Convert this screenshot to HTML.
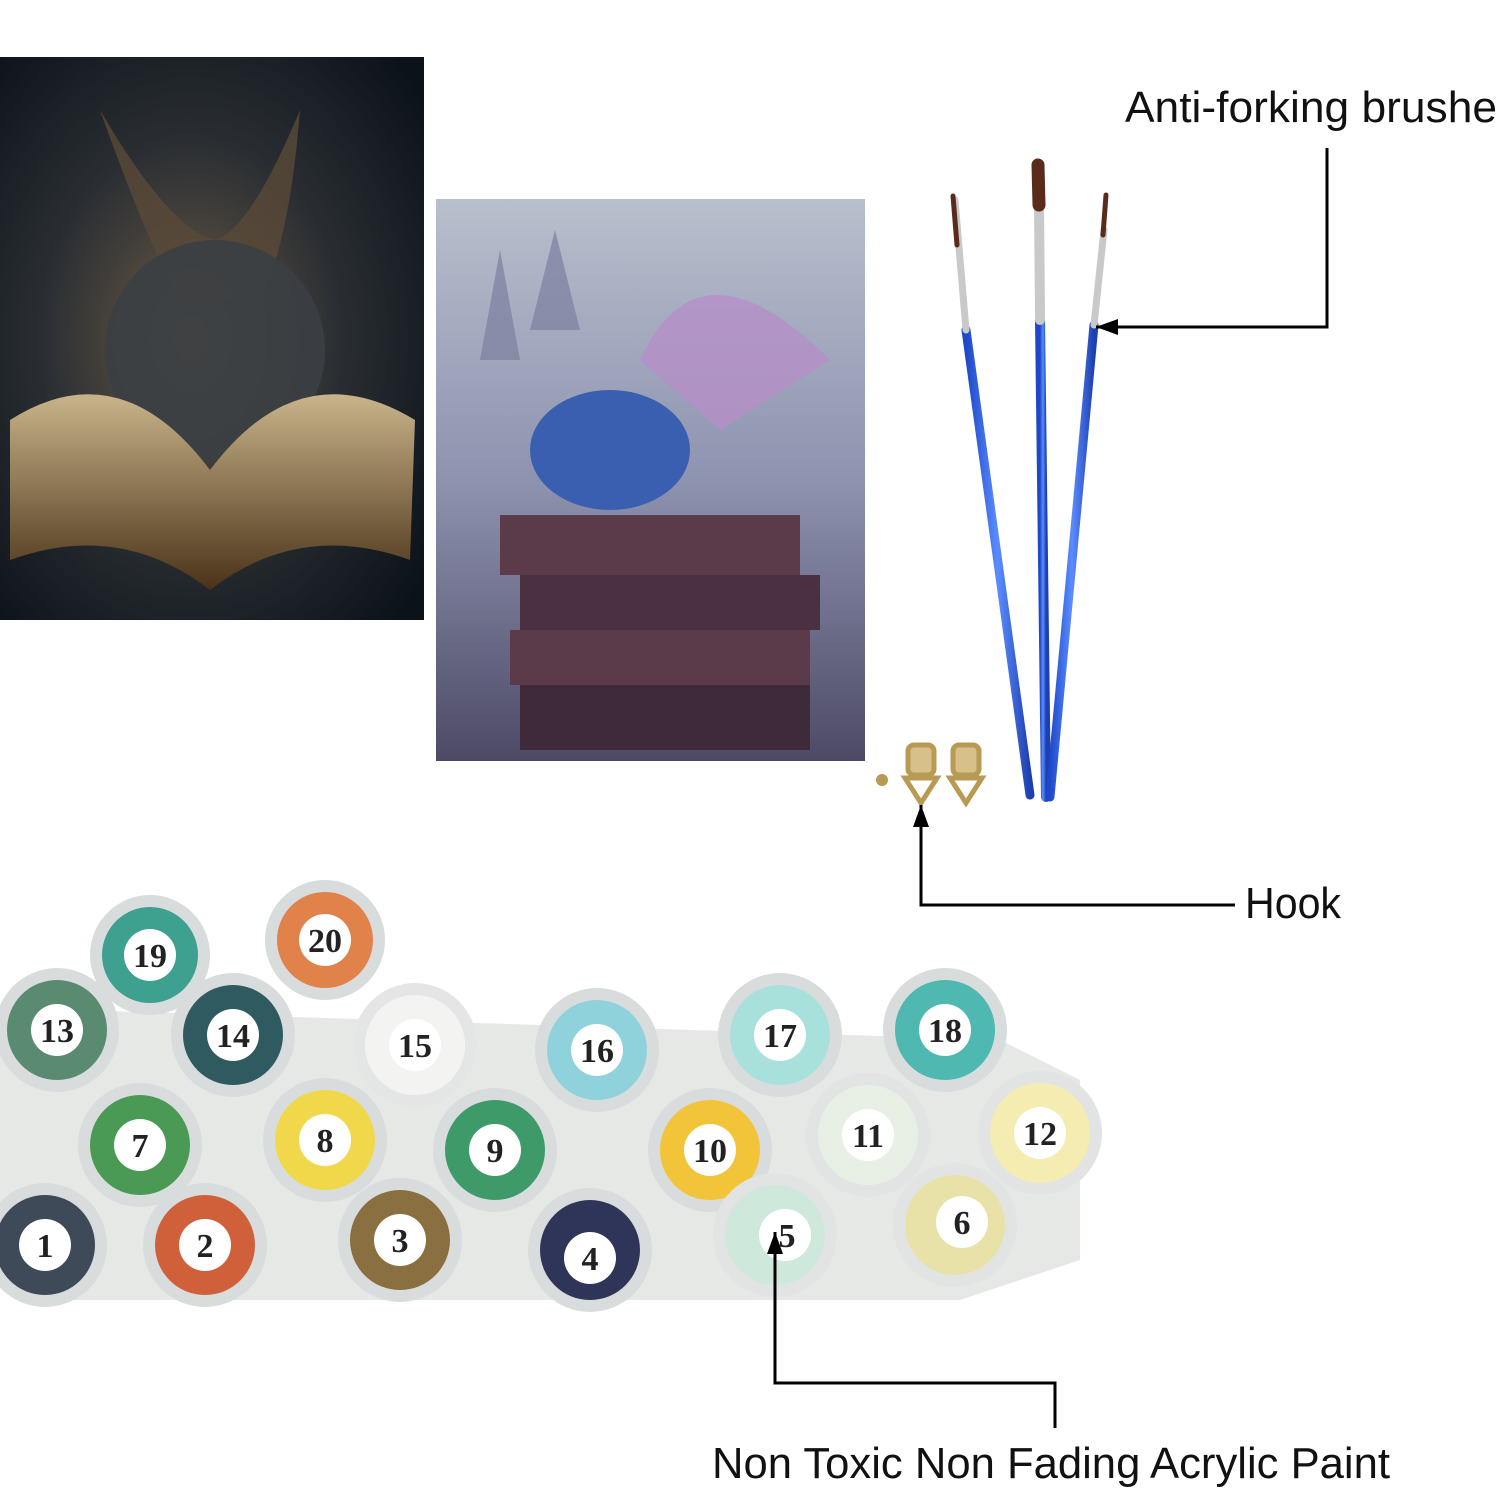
<!DOCTYPE html>
<html><head><meta charset="utf-8"><style>
html,body{margin:0;padding:0;background:#fff;}
svg{display:block;}
</style></head><body>
<svg width="1500" height="1500" viewBox="0 0 1500 1500" xmlns="http://www.w3.org/2000/svg">
<defs>
<radialGradient id="dk" cx="0.45" cy="0.5" r="0.7">
<stop offset="0" stop-color="#6a5a45"/><stop offset="0.5" stop-color="#2a2e33"/><stop offset="1" stop-color="#0b1218"/></radialGradient>
<linearGradient id="bk" x1="0" y1="0" x2="0" y2="1">
<stop offset="0" stop-color="#c9b48a"/><stop offset="1" stop-color="#4a3218"/></linearGradient>
<linearGradient id="mid" x1="0" y1="0" x2="0" y2="1">
<stop offset="0" stop-color="#b8bfcc"/><stop offset="0.5" stop-color="#8e93b0"/><stop offset="1" stop-color="#4d4a66"/></linearGradient>
<linearGradient id="shaft" x1="0" y1="0" x2="1" y2="0">
<stop offset="0" stop-color="#1d49c9"/><stop offset="0.5" stop-color="#5b8cff"/><stop offset="1" stop-color="#1d3fb0"/></linearGradient>
<marker id="ah" markerWidth="24" markerHeight="20" refX="22" refY="10" orient="auto" markerUnits="userSpaceOnUse">
<path d="M0,2 L22,10 L0,18 Z" fill="#000"/></marker>
</defs>

<rect x="0" y="57" width="424" height="563" fill="url(#dk)"/>
<path d="M100,110 Q150,250 180,300 L260,300 Q290,240 300,110 Q250,230 215,240 Q170,230 100,110Z" fill="#5a4a38" opacity="0.8"/>
<ellipse cx="215" cy="350" rx="110" ry="110" fill="#3b3f44" opacity="0.9"/>
<path d="M10,420 Q120,350 210,470 Q300,350 415,420 L410,560 Q300,520 210,590 Q120,520 10,560Z" fill="url(#bk)"/>

<rect x="436" y="199" width="429" height="562" fill="url(#mid)"/>
<path d="M480,360 L500,250 L520,360Z M530,330 L555,230 L580,330Z" fill="#7a80a0" opacity="0.7"/>
<path d="M640,360 Q700,230 830,360 L720,430Z" fill="#b58fc8" opacity="0.8"/>
<ellipse cx="610" cy="450" rx="80" ry="60" fill="#3a5fb0"/>
<rect x="500" y="515" width="300" height="60" fill="#5b3a4a"/>
<rect x="520" y="575" width="300" height="55" fill="#4a3040"/>
<rect x="510" y="630" width="300" height="55" fill="#5b3a4a"/>
<rect x="520" y="685" width="290" height="65" fill="#3e2a38"/>

<g stroke-linecap="round">
<line x1="966" y1="330" x2="1030" y2="795" stroke="url(#shaft)" stroke-width="9"/>
<line x1="955" y1="200" x2="966" y2="330" stroke="#c9c9c9" stroke-width="7"/>
<line x1="953" y1="196" x2="957" y2="245" stroke="#5a2a1a" stroke-width="5"/>
<line x1="1040" y1="320" x2="1046" y2="797" stroke="url(#shaft)" stroke-width="10"/>
<line x1="1039" y1="200" x2="1040" y2="320" stroke="#c9c9c9" stroke-width="10"/>
<line x1="1038" y1="165" x2="1039" y2="205" stroke="#5a2a1a" stroke-width="13"/>
<line x1="1094" y1="325" x2="1050" y2="797" stroke="url(#shaft)" stroke-width="9"/>
<line x1="1104" y1="230" x2="1094" y2="325" stroke="#c9c9c9" stroke-width="7"/>
<line x1="1106" y1="195" x2="1103" y2="235" stroke="#5a2a1a" stroke-width="5"/>
</g>

<g fill="none" stroke="#b89a55" stroke-width="5">
<rect x="908" y="745" width="26" height="30" rx="6" fill="#d8c08a"/>
<path d="M905,778 L921,803 L937,778Z"/>
<rect x="953" y="745" width="26" height="30" rx="6" fill="#d8c08a"/>
<path d="M950,778 L966,803 L982,778Z"/>
</g>
<circle cx="882" cy="780" r="6" fill="#b89a55"/>

<g font-family="Liberation Sans, sans-serif" fill="#111">
<text x="1125" y="122" font-size="44" textLength="372" lengthAdjust="spacingAndGlyphs">Anti-forking brushe</text>
<text x="1245" y="918" font-size="44" textLength="96" lengthAdjust="spacingAndGlyphs">Hook</text>
<text x="712" y="1478" font-size="44" textLength="678" lengthAdjust="spacingAndGlyphs">Non Toxic Non Fading Acrylic Paint</text>
</g>

<path d="M80,1010 L1000,1040 L1080,1080 L1080,1260 L960,1300 L60,1300 L0,1250 L0,1010Z" fill="#e6e8e6"/>

<g font-family="Liberation Serif, serif" font-weight="bold" font-size="34" text-anchor="middle">
<g><circle cx="150" cy="955" r="60" fill="#d9dcdc"/><circle cx="150" cy="955" r="48" fill="#3ea08e"/><circle cx="150" cy="955" r="26" fill="#fff"/><text x="150" y="967" fill="#222">19</text></g>
<g><circle cx="325" cy="940" r="60" fill="#d9dcdc"/><circle cx="325" cy="940" r="48" fill="#e0824a"/><circle cx="325" cy="940" r="26" fill="#fff"/><text x="325" y="952" fill="#222">20</text></g>
<g><circle cx="57" cy="1030" r="62" fill="#d9dcdc"/><circle cx="57" cy="1030" r="50" fill="#5a8a70"/><circle cx="57" cy="1030" r="26" fill="#fff"/><text x="57" y="1042" fill="#222">13</text></g>
<g><circle cx="233" cy="1035" r="62" fill="#d9dcdc"/><circle cx="233" cy="1035" r="50" fill="#2f5a60"/><circle cx="233" cy="1035" r="26" fill="#fff"/><text x="233" y="1047" fill="#222">14</text></g>
<g><circle cx="415" cy="1045" r="62" fill="#e4e6e6"/><circle cx="415" cy="1045" r="50" fill="#f3f4f2"/><circle cx="415" cy="1045" r="26" fill="#fff"/><text x="415" y="1057" fill="#222">15</text></g>
<g><circle cx="597" cy="1050" r="62" fill="#d9dcdc"/><circle cx="597" cy="1050" r="50" fill="#8fd2dc"/><circle cx="597" cy="1050" r="26" fill="#fff"/><text x="597" y="1062" fill="#222">16</text></g>
<g><circle cx="780" cy="1035" r="62" fill="#d9dcdc"/><circle cx="780" cy="1035" r="50" fill="#a8e0dc"/><circle cx="780" cy="1035" r="26" fill="#fff"/><text x="780" y="1047" fill="#222">17</text></g>
<g><circle cx="945" cy="1030" r="62" fill="#d9dcdc"/><circle cx="945" cy="1030" r="50" fill="#4fb8b0"/><circle cx="945" cy="1030" r="26" fill="#fff"/><text x="945" y="1042" fill="#222">18</text></g>
<g><circle cx="140" cy="1145" r="62" fill="#d9dcdc"/><circle cx="140" cy="1145" r="50" fill="#4a9a55"/><circle cx="140" cy="1145" r="26" fill="#fff"/><text x="140" y="1157" fill="#222">7</text></g>
<g><circle cx="325" cy="1140" r="62" fill="#d9dcdc"/><circle cx="325" cy="1140" r="50" fill="#f0d84a"/><circle cx="325" cy="1140" r="26" fill="#fff"/><text x="325" y="1152" fill="#222">8</text></g>
<g><circle cx="495" cy="1150" r="62" fill="#d9dcdc"/><circle cx="495" cy="1150" r="50" fill="#3f9a6a"/><circle cx="495" cy="1150" r="26" fill="#fff"/><text x="495" y="1162" fill="#222">9</text></g>
<g><circle cx="710" cy="1150" r="62" fill="#d9dcdc"/><circle cx="710" cy="1150" r="50" fill="#f2c43a"/><circle cx="710" cy="1150" r="26" fill="#fff"/><text x="710" y="1162" fill="#222">10</text></g>
<g><circle cx="868" cy="1135" r="62" fill="#e2e4e4"/><circle cx="868" cy="1135" r="50" fill="#e8f0e6"/><circle cx="868" cy="1135" r="26" fill="#fff"/><text x="868" y="1147" fill="#222">11</text></g>
<g><circle cx="1040" cy="1133" r="62" fill="#e2e4e4"/><circle cx="1040" cy="1133" r="50" fill="#f4ecb0"/><circle cx="1040" cy="1133" r="26" fill="#fff"/><text x="1040" y="1145" fill="#222">12</text></g>
<g><circle cx="45" cy="1245" r="62" fill="#d9dcdc"/><circle cx="45" cy="1245" r="50" fill="#3e4a58"/><circle cx="45" cy="1245" r="26" fill="#fff"/><text x="45" y="1257" fill="#222">1</text></g>
<g><circle cx="205" cy="1245" r="62" fill="#d9dcdc"/><circle cx="205" cy="1245" r="50" fill="#d0603a"/><circle cx="205" cy="1245" r="26" fill="#fff"/><text x="205" y="1257" fill="#222">2</text></g>
<g><circle cx="400" cy="1240" r="62" fill="#d9dcdc"/><circle cx="400" cy="1240" r="50" fill="#8a7040"/><circle cx="400" cy="1240" r="26" fill="#fff"/><text x="400" y="1252" fill="#222">3</text></g>
<g><circle cx="590" cy="1250" r="62" fill="#d9dcdc"/><circle cx="590" cy="1250" r="50" fill="#2e3558"/><circle cx="590" cy="1258" r="26" fill="#fff"/><text x="590" y="1270" fill="#222">4</text></g>
<g><circle cx="775" cy="1235" r="62" fill="#e2e4e4"/><circle cx="775" cy="1235" r="50" fill="#cfe8dc"/><circle cx="785" cy="1235" r="26" fill="#fff"/><text x="787" y="1247" fill="#222">5</text></g>
<g><circle cx="955" cy="1225" r="62" fill="#e2e4e4"/><circle cx="955" cy="1225" r="50" fill="#e8e2a8"/><circle cx="962" cy="1222" r="26" fill="#fff"/><text x="962" y="1234" fill="#222">6</text></g>
</g>

<g stroke="#000" stroke-width="3" fill="none">
<polyline points="1327,148 1327,327 1096,327" marker-end="url(#ah)"/>
<polyline points="1235,905 921,905 921,805" marker-end="url(#ah)"/>
<polyline points="1055,1428 1055,1383 775,1383 775,1232" marker-end="url(#ah)"/>
</g>
</svg>
</body></html>
